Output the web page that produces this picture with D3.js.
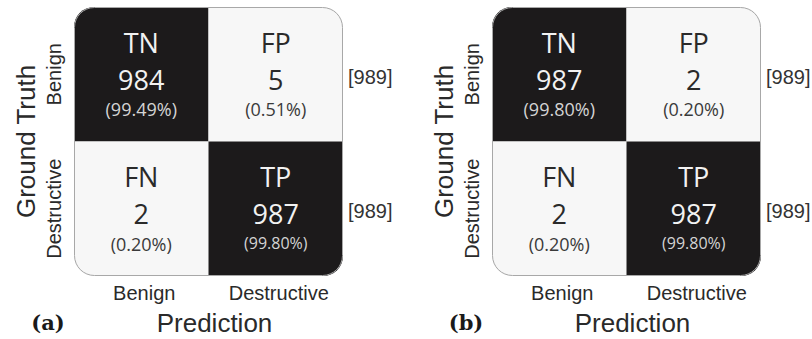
<!DOCTYPE html>
<html>
<head>
<meta charset="utf-8">
<script src="https://cdn.jsdelivr.net/npm/d3@7/dist/d3.min.js"></script>
<style>
  html, body { margin: 0; padding: 0; background: #fff; }
  svg { display: block; }
</style>
</head>
<body>
<svg id="chart" width="812" height="339"></svg>
<script>
// ---- data ----
const classes = ["Benign", "Destructive"];
const cellCodes = [["TN", "FP"], ["FN", "TP"]];
const panelTags = ["(a)", "(b)"];
const valuesA = [[984, 5], [2, 987]];
const valuesB = [[987, 2], [2, 987]];
const panelValues = [valuesA, valuesB];
const rowTitle = "Ground Truth";
const colTitle = "Prediction";

// ---- layout ----
const svg = d3.select("#chart");
const panelLeft = [74, 492];
const size = 269;
const top0 = 7;
const darkFill = "#1c1a1b";
const lightFill = "#f7f7f7";
const pctFont = d => d.code === "TP" ? 16 : 18;

panelValues.forEach((vals, p) => {
  const left = panelLeft[p];
  const x = d3.scaleBand().domain(classes).range([left, left + size]);
  const y = d3.scaleBand().domain(classes).range([top0, top0 + size]);
  const g = svg.append("g");

  const clipId = "clip" + p;
  g.append("clipPath").attr("id", clipId)
    .append("rect")
    .attr("x", left).attr("y", top0)
    .attr("width", size).attr("height", size)
    .attr("rx", 20).attr("ry", 20);

  const cells = [];
  classes.forEach((rc, i) => {
    const total = d3.sum(vals[i]);
    classes.forEach((cc, j) => {
      cells.push({ row: rc, col: cc, i, j, v: vals[i][j], total, code: cellCodes[i][j], diag: i === j });
    });
  });

  const cg = g.append("g").attr("clip-path", `url(#${clipId})`);
  cg.selectAll("rect").data(cells).join("rect")
    .attr("x", d => x(d.col)).attr("y", d => y(d.row))
    .attr("width", x.bandwidth()).attr("height", y.bandwidth())
    .attr("fill", d => d.diag ? darkFill : lightFill);

  g.append("rect")
    .attr("x", left + 0.5).attr("y", top0 + 0.5)
    .attr("width", size - 1).attr("height", size - 1)
    .attr("rx", 20).attr("ry", 20)
    .attr("fill", "none").attr("stroke", "#a8a8a8").attr("stroke-width", 1);

  const tg = g.selectAll("g.cell").data(cells).join("g")
    .attr("transform", d => `translate(${x(d.col) + x.bandwidth() / 2},${y(d.row) + y.bandwidth() / 2})`)
    .attr("font-family", "'Open Sans', sans-serif")
    .attr("text-anchor", "middle");

  tg.append("text").attr("y", -21.5).attr("font-size", 27)
    .attr("fill", d => d.diag ? "#f2f2f2" : "#2a2a2a")
    .text(d => d.code);
  tg.append("text").attr("y", 15.5).attr("font-size", 27)
    .attr("fill", d => d.diag ? "#f2f2f2" : "#2a2a2a")
    .text(d => d.v);
  tg.append("text").attr("y", d => d.code === "TP" ? 40 : 42).attr("font-size", pctFont)
    .attr("fill", d => d.diag ? "#d4d4d4" : "#3a3a3a")
    .text(d => "(" + (d.v / d.total * 100).toFixed(2) + "%)");

  // row totals
  g.selectAll("text.tot").data(classes).join("text")
    .attr("x", left + size + 5)
    .attr("y", d => y(d) + y.bandwidth() / 2 + 9.5)
    .attr("font-family", "'Liberation Sans', Arial, sans-serif")
    .attr("font-size", 20).attr("fill", "#333")
    .text((d, i) => "[" + d3.sum(vals[i]) + "]");

  // row labels (rotated)
  g.selectAll("text.rl").data(classes).join("text")
    .attr("transform", d => `translate(${left - 13},${y(d) + y.bandwidth() / 2}) rotate(-90)`)
    .attr("text-anchor", "middle")
    .attr("font-family", "'Liberation Sans', Arial, sans-serif")
    .attr("font-size", 20).attr("fill", "#2a2a2a")
    .text(d => d);

  g.append("text")
    .attr("transform", `translate(${left - 39},${top0 + size / 2}) rotate(-90)`)
    .attr("text-anchor", "middle")
    .attr("font-family", "'Liberation Sans', Arial, sans-serif")
    .attr("font-size", 26).attr("fill", "#2a2a2a")
    .text(rowTitle);

  // column labels
  g.selectAll("text.cl").data(classes).join("text")
    .attr("x", d => x(d) + x.bandwidth() / 2 + 3)
    .attr("y", 300)
    .attr("text-anchor", "middle")
    .attr("font-family", "'Liberation Sans', Arial, sans-serif")
    .attr("font-size", 20).attr("fill", "#2a2a2a")
    .text(d => d);

  g.append("text")
    .attr("x", left + size / 2 + 6).attr("y", 332)
    .attr("text-anchor", "middle")
    .attr("font-family", "'Liberation Sans', Arial, sans-serif")
    .attr("font-size", 26).attr("fill", "#2a2a2a")
    .text(colTitle);

  g.append("text")
    .attr("x", left - 26).attr("y", 330)
    .attr("text-anchor", "middle")
    .attr("font-family", "'DejaVu Serif', serif")
    .attr("font-weight", "bold")
    .attr("font-size", 21).attr("fill", "#1a1a1a")
    .text(panelTags[p]);
});
</script>
</body>
</html>
